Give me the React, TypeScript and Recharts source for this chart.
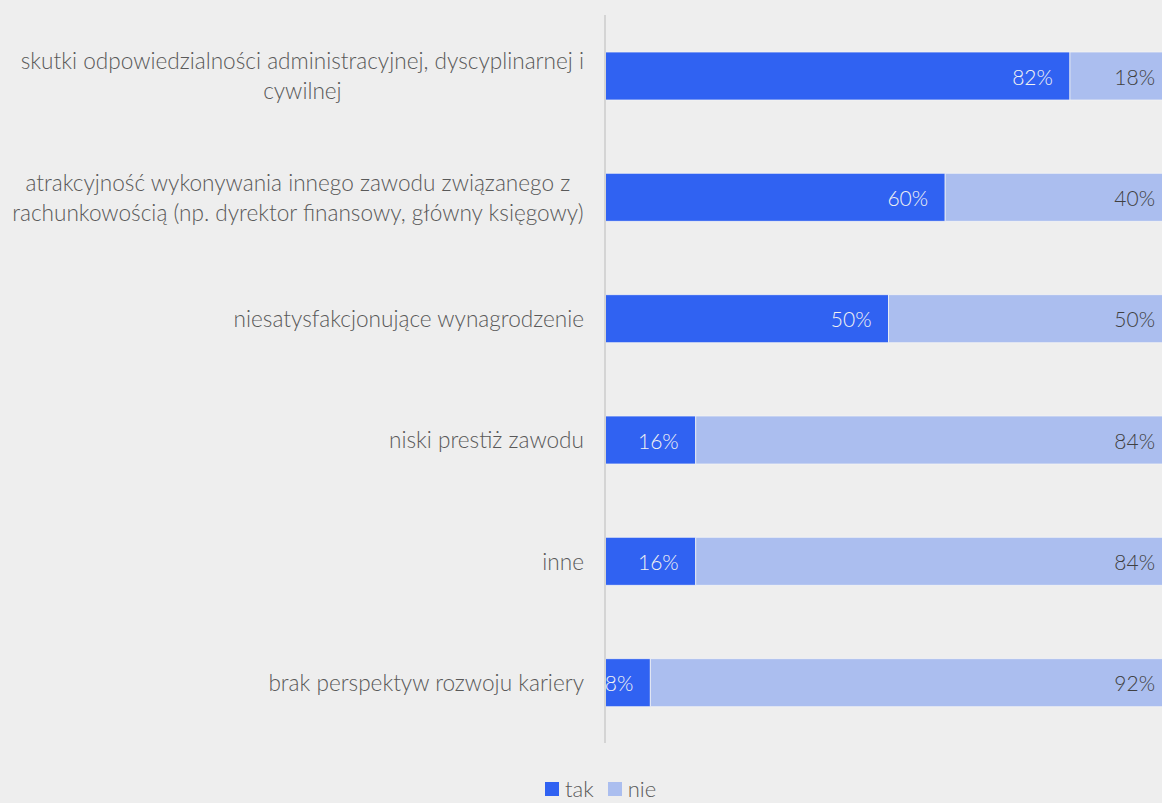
import React from "react";
import { BarChart, Bar, XAxis, YAxis, Legend, LabelList } from "recharts";

const categories = [
  "skutki odpowiedzialności administracyjnej, dyscyplinarnej i cywilnej",
  "atrakcyjność wykonywania innego zawodu związanego z rachunkowością (np. dyrektor finansowy, główny księgowy)",
  "niesatysfakcjonujące wynagrodzenie",
  "niski prestiż zawodu",
  "inne",
  "brak perspektyw rozwoju kariery",
];
const tickLines = [
  ["skutki odpowiedzialności administracyjnej, dyscyplinarnej i", "cywilnej"],
  ["atrakcyjność wykonywania innego zawodu związanego z", "rachunkowością (np. dyrektor finansowy, główny księgowy)"],
  ["niesatysfakcjonujące wynagrodzenie"],
  ["niski prestiż zawodu"],
  ["inne"],
  ["brak perspektyw rozwoju kariery"],
];
const tak = [82, 60, 50, 16, 16, 8];
const nie = [18, 40, 50, 84, 84, 92];
const seriesNames = ["tak", "nie"];

const data = categories.map((c, i) => ({ name: c, tak: tak[i], nie: nie[i], idx: i }));

const FONT = "Lato, 'Open Sans', sans-serif";
const FS = 22.6;
const LFS = 21;
const TEXT = "#595959";
const DARK = "#3062F2";
const LIGHT = "#ABBEEF";

let ctx: CanvasRenderingContext2D | null = null;
function measure(s: string) {
  if (!ctx) {
    ctx = document.createElement("canvas").getContext("2d");
  }
  if (!ctx) return s.length * 10.5;
  ctx.font = `300 ${FS}px Lato`;
  return ctx.measureText(s).width;
}

const YTick = (props: any) => {
  const { y, payload } = props;
  const lines = tickLines[payload.index] || [payload.value];
  const right = 584;
  const lh = 30;
  if (lines.length === 1) {
    return (
      <text x={right} y={y} textAnchor="end" dominantBaseline="central" fontFamily={FONT} fontWeight={300} fontSize={FS} fill={TEXT}>
        {lines[0]}
      </text>
    );
  }
  const w = Math.max(...lines.map(measure));
  const cx = right - w / 2;
  const start = y - ((lines.length - 1) * lh) / 2;
  return (
    <text textAnchor="middle" fontFamily={FONT} fontWeight={300} fontSize={FS} fill={TEXT}>
      {lines.map((l: string, i: number) => (
        <tspan key={i} x={cx} y={start + i * lh} dominantBaseline="central">
          {l}
        </tspan>
      ))}
    </text>
  );
};

const makeLabel = (color: string) => (props: any) => {
  const { x, y, width, height, value } = props;
  return (
    <text
      x={x + width - 17}
      y={y + height / 2}
      textAnchor="end"
      dominantBaseline="central"
      fontFamily={FONT}
      fontWeight={300}
      fontSize={LFS}
      fill={color}
    >
      {value}%
    </text>
  );
};

const LegendContent = () => (
  <div style={{ display: "flex", alignItems: "center", fontFamily: FONT, fontWeight: 300, fontSize: 22, lineHeight: "24px", color: TEXT }}>
    {seriesNames.map((n, i) => (
      <div key={n} style={{ display: "flex", alignItems: "center", marginRight: 14 }}>
        <div style={{ width: 14, height: 14, background: i === 0 ? DARK : LIGHT, marginRight: 6 }} />
        <span>{n}</span>
      </div>
    ))}
  </div>
);

export default function App() {
  return (
    <div style={{ width: 1162, height: 803, overflow: "hidden", background: "#eeeeee", position: "relative" }}>
      <style>{`body{margin:0;background:#eeeeee;overflow:hidden}`}</style>
      <BarChart
        width={1172}
        height={803}
        data={data}
        layout="vertical"
        margin={{ top: 15, right: 0, bottom: 36, left: 0 }}
        barSize={48}
      >
        <XAxis type="number" domain={[0, 100]} hide />
        <YAxis
          type="category"
          dataKey="name"
          width={605}
          axisLine={{ stroke: "#d4d4d4", strokeWidth: 2 }}
          tickLine={false}
          tick={<YTick />}
          interval={0}
        />
        <Legend
          content={<LegendContent />}
          wrapperStyle={{ position: "absolute", top: 777, left: 545, width: 200, height: 24 }}
        />
        <Bar dataKey="tak" stackId="a" fill={DARK} stroke="#f4f4f4" strokeWidth={0.75} isAnimationActive={false}>
          <LabelList dataKey="tak" content={makeLabel("#f2f2f2")} />
        </Bar>
        <Bar dataKey="nie" stackId="a" fill={LIGHT} stroke="#f4f4f4" strokeWidth={0.75} isAnimationActive={false}>
          <LabelList dataKey="nie" content={makeLabel("#404040")} />
        </Bar>
      </BarChart>
    </div>
  );
}
